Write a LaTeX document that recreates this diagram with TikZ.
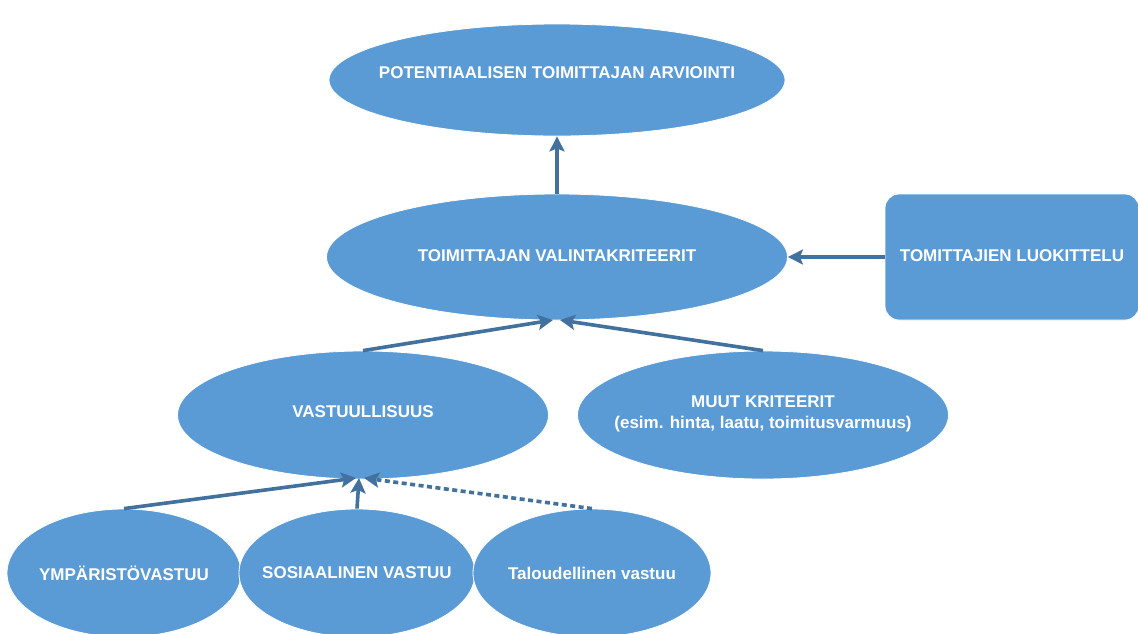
\documentclass[tikz,border=0pt]{standalone}
\usepackage{fontspec}
\setmainfont{Liberation Sans}
\usetikzlibrary{shapes.geometric,arrows.meta}
\definecolor{fillblue}{HTML}{5B9BD5}
\definecolor{linkblue}{HTML}{41719C}
\tikzset{
  lbl/.style={text=white, font=\bfseries\fontsize{17}{20.5}\selectfont, align=center},
  oval/.style={ellipse, fill=fillblue, draw=white, line width=0.8pt, inner sep=0pt},
  rbox/.style={rectangle, rounded corners=14pt, fill=fillblue, draw=white, line width=0.8pt, inner sep=0pt},
  link/.style={draw=linkblue, line width=3.6pt, -{Stealth[length=15pt,width=15pt,inset=3pt]}},
  dlink/.style={link, dash pattern=on 5pt off 3.5pt}
}
\begin{document}
\begin{tikzpicture}[x=1pt,y=-1pt]
\useasboundingbox[fill=white] (0,0) rectangle (1138,633);
\node[oval, minimum width=456pt, minimum height=112pt] (top) at (557,80) {};
\node[lbl] (toptext) at (557,73) {POTENTIAALISEN TOIMITTAJAN ARVIOINTI};
\node[oval, minimum width=461pt, minimum height=126pt] (mid) at (557,257) {};
\node[lbl] (midtext) at (557,256) {TOIMITTAJAN VALINTAKRITEERIT};
\node[rbox, minimum width=254pt, minimum height=126pt] (box) at (1012,257) {};
\node[lbl] (boxtext) at (1012,256) {TOMITTAJIEN LUOKITTELU};
\node[oval, minimum width=371pt, minimum height=128pt] (vast) at (363,415) {};
\node[lbl] (vasttext) at (363,412) {VASTUULLISUUS};
\node[oval, minimum width=371pt, minimum height=128pt] (muut) at (763,415) {};
\node[lbl] (muuttext) at (763,414) {MUUT KRITEERIT\\(esim. hinta, laatu, toimitusvarmuus)};
\node[oval, minimum width=234pt, minimum height=128pt] (ymp) at (124,573) {};
\node[lbl] (ymptext) at (124,573) {YMPÄRISTÖVASTUU};
\node[oval, minimum width=236pt, minimum height=128pt] (sos) at (357,573) {};
\node[lbl] (sostext) at (357,573) {SOSIAALINEN VASTUU};
\node[oval, minimum width=238pt, minimum height=128pt] (tal) at (592,573) {};
\node[lbl] (taltext) at (592,573) {Taloudellinen vastuu};
\coordinate (midB1) at (553,320);
\coordinate (midB2) at (560,320);
\coordinate (vastB1) at (356,478);
\coordinate (vastB2) at (359,478);
\coordinate (vastB3) at (364,478);
\draw[link] (mid.north) -- (top.south);
\draw[link] (box.west) -- (mid.east);
\draw[link] (vast.north) -- (midB1);
\draw[link] (muut.north) -- (midB2);
\draw[link] (ymp.north) -- (vastB1);
\draw[link] (sos.north) -- (vastB2);
\draw[dlink] (tal.north) -- (vastB3);
\end{tikzpicture}
\end{document}
